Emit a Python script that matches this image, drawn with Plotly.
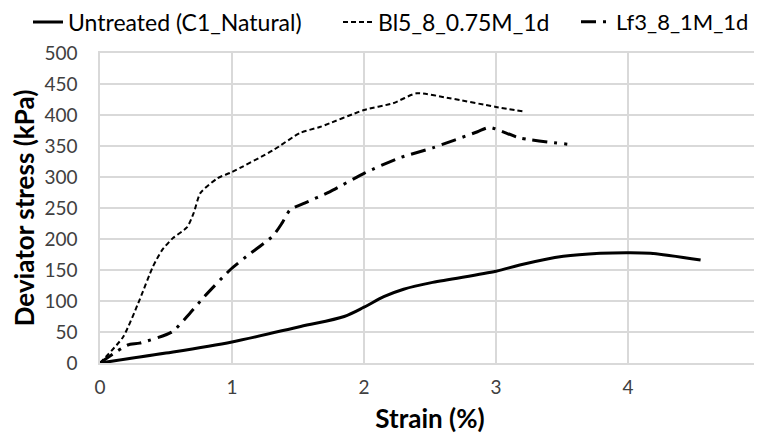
import plotly.graph_objects as go

untreated_x = [0, 0.5, 1.0, 1.52, 1.85, 2.0, 2.15, 2.3, 2.52, 3.0, 3.18, 3.51, 3.79, 4.0, 4.17, 4.55]
untreated_y = [0, 16, 34, 59, 75, 90, 107, 119, 130, 148, 158, 172, 177, 178, 177, 166]

bl5_x = [0, 0.175, 0.30, 0.40, 0.47, 0.55, 0.66, 0.71, 0.76, 0.89, 1.0, 1.31, 1.515, 1.67, 2.0, 2.22, 2.40, 2.65, 3.0, 3.2]
bl5_y = [0, 42, 102, 155, 182, 201, 219, 242, 274, 298, 308, 343, 371, 381, 408, 419, 435, 427, 413, 406]

lf3_x = [0, 0.21, 0.30, 0.545, 0.68, 0.79, 0.985, 1.11, 1.31, 1.38, 1.44, 1.55, 1.74, 2.0, 2.27, 2.52, 2.86, 2.95, 3.18, 3.54]
lf3_y = [0, 29, 32, 50, 80, 107, 150, 172, 205, 226, 247, 258, 276, 306, 331, 347, 373, 380, 363, 353]

x_ticks = [0, 1, 2, 3, 4, 5]
y_ticks = [0, 50, 100, 150, 200, 250, 300, 350, 400, 450, 500]

FONT = "Lato"
GRID = "#d9d9d9"
W, H = 754, 426
L, R, T, B = 92, 2, 45, 71
PW = W - L - R
PH = H - T - B


def lx(px):
    return (px - L) / PW


LEG_Y = 1 + (T - 14) / PH

fig = go.Figure()
fig.add_trace(go.Scatter(x=untreated_x, y=untreated_y, mode="lines", name="Untreated (C1_Natural)",
                         legend="legend",
                         line=dict(color="black", width=3, shape="spline", smoothing=0.9)))
fig.add_trace(go.Scatter(x=bl5_x, y=bl5_y, mode="lines", name="Bl5_8_0.75M_1d",
                         legend="legend2",
                         line=dict(color="black", width=2, dash="5px,3px", shape="spline", smoothing=0.6)))
fig.add_trace(go.Scatter(x=lf3_x, y=lf3_y, mode="lines", name="Lf3_8_1M_1d",
                         legend="legend3",
                         line=dict(color="black", width=3, dash="15px,7px,3px,7px", shape="spline", smoothing=0.6)))

leg_common = dict(orientation="h", xanchor="left", y=LEG_Y, yanchor="middle",
                  itemwidth=30, bgcolor="rgba(0,0,0,0)")

fig.update_layout(
    width=W, height=H,
    margin=dict(l=L, r=R, t=T, b=B, autoexpand=False),
    paper_bgcolor="white", plot_bgcolor="white",
    font=dict(family=FONT, color="#262626", size=16),
    showlegend=True,
    legend=dict(x=lx(20), font=dict(family=FONT, size=23, color="black"), **leg_common),
    legend2=dict(x=lx(330), font=dict(family=FONT, size=23, color="black"), **leg_common),
    legend3=dict(x=lx(568), font=dict(family=FONT, size=22, color="black"), **leg_common),
    xaxis=dict(range=[0, 5], tickvals=x_ticks, showgrid=True, gridcolor=GRID, gridwidth=1.5,
               zeroline=False, showline=True, linecolor=GRID, linewidth=1.5, mirror=True,
               ticks="outside", ticklen=6, tickcolor="rgba(0,0,0,0)",
               tickfont=dict(size=19, color="#404040"), automargin=False,
               title=dict(text="<b>Strain (%)</b>", font=dict(size=26, color="black"), standoff=20)),
    yaxis=dict(range=[0, 500], tickvals=y_ticks, showgrid=True, gridcolor=GRID, gridwidth=1.5,
               zeroline=False, showline=True, linecolor=GRID, linewidth=1.5, mirror=True,
               ticks="outside", ticklen=17, tickcolor="rgba(0,0,0,0)",
               tickfont=dict(size=19, color="#404040"), automargin=False,
               title=dict(text="<b>Deviator stress (kPa)</b>", font=dict(size=26, color="black"), standoff=12)),
)

fig.write_html("out.html")
